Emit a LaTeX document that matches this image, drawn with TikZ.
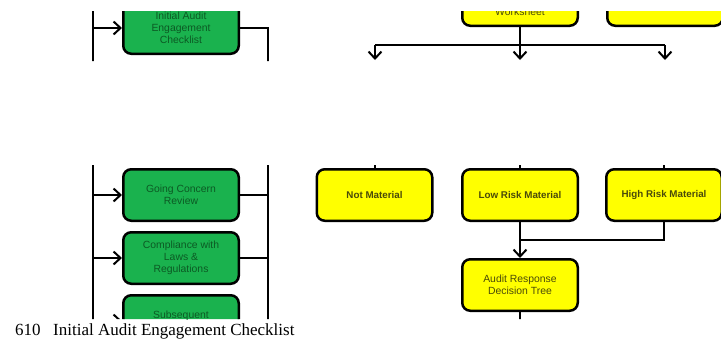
\documentclass[tikz,border=0pt]{standalone}
\usepackage{fontspec}
\usetikzlibrary{arrows.meta}
\newfontfamily\boxfont{Liberation Sans}
\newfontfamily\capfont{Liberation Serif}
\definecolor{boxgreen}{RGB}{26,178,78}
\definecolor{greenink}{RGB}{12,90,36}
\definecolor{boxyellow}{RGB}{255,255,0}
\definecolor{yellowink}{RGB}{74,74,10}
\tikzset{
  box/.style={draw=black, line width=2.5pt, rounded corners=8pt,
    minimum width=115.5pt, minimum height=51.5pt, inner sep=0pt, align=center},
  greenbox/.style={box, fill=boxgreen, text=greenink,
    font=\boxfont\fontsize{10.4}{12}\selectfont},
  yellowbox/.style={box, fill=boxyellow, text=yellowink,
    font=\boxfont\bfseries\fontsize{9.8}{12}\selectfont},
  link/.style={draw=black, line width=2pt},
  flow/.style={link, -{Straight Barb[length=7pt,width=13pt,line width=2pt]}},
}
\begin{document}
\begin{tikzpicture}[x=1pt,y=-1pt]
\useasboundingbox (0,0) rectangle (721,340);
\fill[white] (0,0) rectangle (721,340);
\begin{scope}
  % two visible bands of the flow chart
  \clip (0,11) rectangle (721,61) (0,165) rectangle (721,319);

  % engagement checklist column
  \node[greenbox] (g1) at (181,28) {Initial Audit\\Engagement\\Checklist};
  \node[greenbox] (g2) at (181,195) {Going Concern\\Review};
  \node[greenbox] (g3) at (181,258) {Compliance with\\Laws \&\\Regulations};
  \node[greenbox] (g4) at (181,321) {};
  \node[font=\boxfont\fontsize{10.4}{12}\selectfont, text=greenink, inner sep=0pt]
    (g4t) at (181,316) {Subsequent};

  \coordinate (lt) at (93,0);
  \coordinate (lb) at (93,330);
  \coordinate (rt) at (268,28);
  \coordinate (rb) at (268,330);
  \draw[link] (lt) -- (lb);
  \draw[link] (g1.east) -- (rt) -- (rb);
  \foreach \b in {g1,g2,g3,g4} {
    \draw[flow] (\b.west -| lt) -- (\b.west);
  }
  \foreach \b in {g2,g3} {
    \draw[link] (\b.east) -- (\b.east -| rt);
  }

  % materiality branch
  \node[yellowbox] (ws) at (520,0) {};
  \node[font=\boxfont\fontsize{10.4}{12}\selectfont, text=yellowink, inner sep=0pt]
    (wst) at (520,12) {Worksheet};
  \node[yellowbox] (tr) at (665,0) {};

  \coordinate (split) at (520,45);
  \coordinate (sl) at (375,45);
  \coordinate (sr) at (665,45);
  \coordinate (al) at (375,60);
  \coordinate (am) at (520,60);
  \coordinate (ar) at (665,60);
  \draw[link] (ws.south) -- (split);
  \draw[link] (sl) -- (sr);
  \draw[flow] (sl) -- (al);
  \draw[flow] (split) -- (am);
  \draw[flow] (sr) -- (ar);

  \node[yellowbox] (nm) at (374.5,195) {Not Material};
  \node[yellowbox] (lr) at (520,195) {Low Risk Material};
  \node[yellowbox] (hr) at (664,195) {High Risk Material};
  \node[yellowbox, font=\boxfont\fontsize{10.4}{12}\selectfont]
    (dt) at (520,285) {Audit Response\\Decision Tree};

  \foreach \b in {nm,lr,hr} {
    \draw[link] (\b.north) -- ++(0,-20);
  }
  \coordinate (join) at (520,240);
  \draw[link] (hr.south) |- (join);
  \draw[flow] (lr.south) -- (dt.north);
  \coordinate (dtout) at (520,330);
  \draw[link] (dt.south) -- (dtout);
\end{scope}

% figure caption
\node[anchor=base west, inner sep=0pt, font=\capfont\fontsize{17}{19}\selectfont]
  (capnum) at (15,335) {610};
\node[anchor=base west, inner sep=0pt, font=\capfont\fontsize{17}{19}\selectfont]
  (captext) at (53,335) {Initial Audit Engagement Checklist};
\end{tikzpicture}
\end{document}
